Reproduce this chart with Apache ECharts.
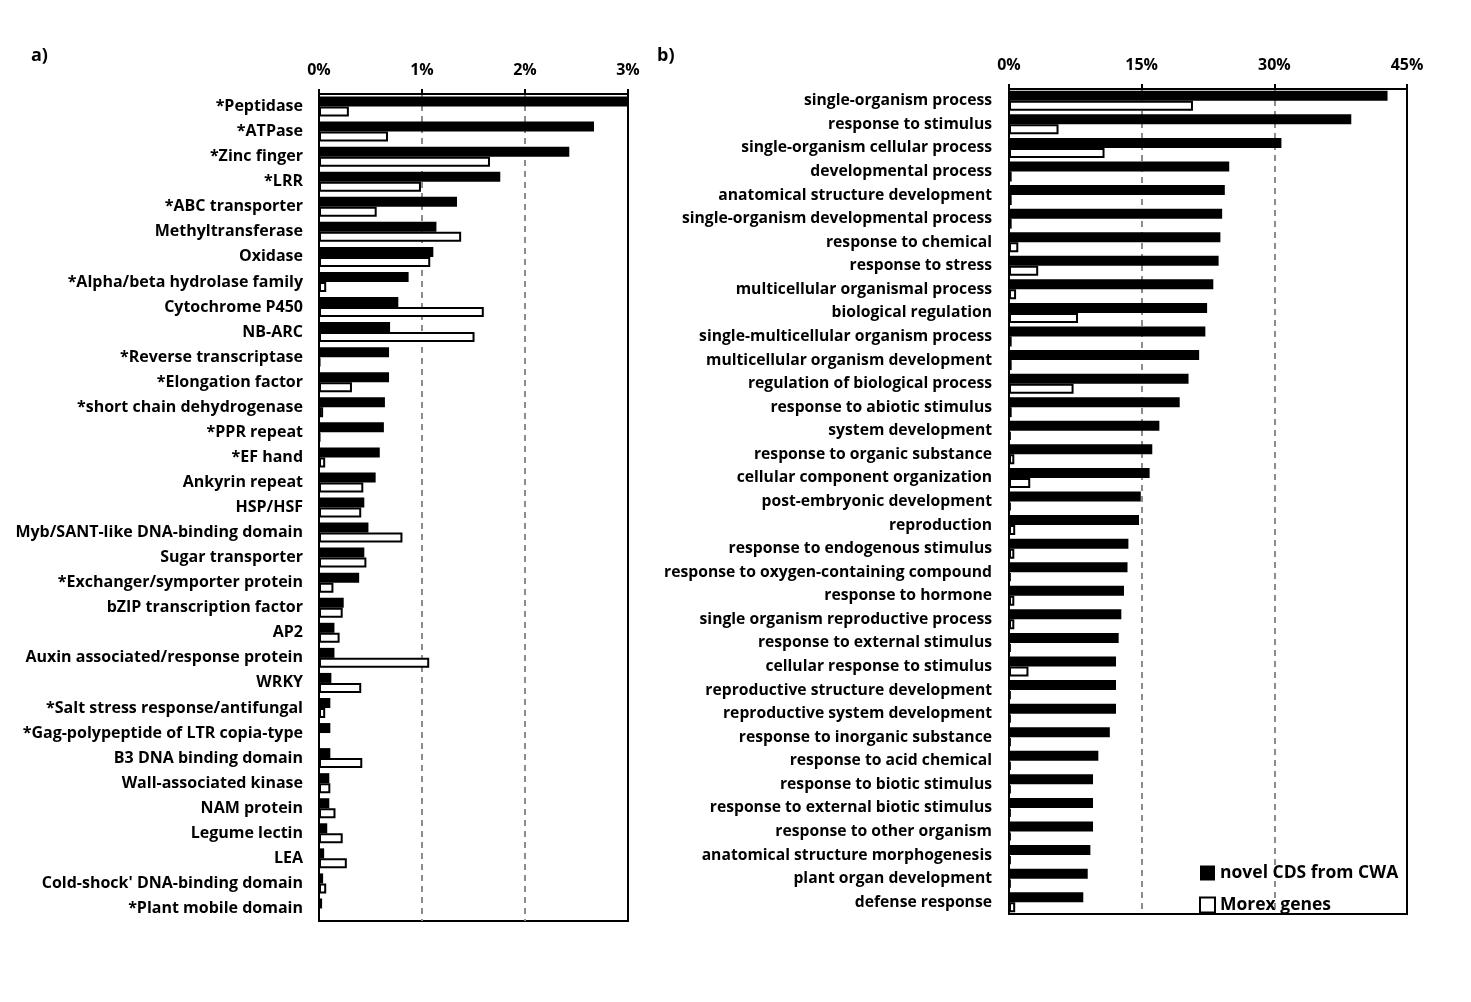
<!DOCTYPE html>
<html>
<head>
<meta charset="utf-8">
<title>Domains and GO terms</title>
<script src="https://cdn.jsdelivr.net/npm/echarts@6/dist/echarts.min.js"></script>
<style>
html, body { margin: 0; padding: 0; background: #fff; }
#main { width: 1471px; height: 1002px; }
</style>
</head>
<body>
<div id="main"></div>
<script>
// panel a: protein domains (% of genes)
var domainNames = ['*Peptidase', '*ATPase', '*Zinc finger', '*LRR', '*ABC transporter',
    'Methyltransferase', 'Oxidase', '*Alpha/beta hydrolase family', 'Cytochrome P450', 'NB-ARC',
    '*Reverse transcriptase', '*Elongation factor', '*short chain dehydrogenase', '*PPR repeat',
    '*EF hand', 'Ankyrin repeat', 'HSP/HSF', 'Myb/SANT-like DNA-binding domain', 'Sugar transporter',
    '*Exchanger/symporter protein', 'bZIP transcription factor', 'AP2', 'Auxin associated/response protein',
    'WRKY', '*Salt stress response/antifungal', '*Gag-polypeptide of LTR copia-type', 'B3 DNA binding domain',
    'Wall-associated kinase', 'NAM protein', 'Legume lectin', 'LEA', "Cold-shock' DNA-binding domain",
    '*Plant mobile domain'];
var domainNovel = [3.0, 2.67, 2.43, 1.76, 1.34, 1.14, 1.11, 0.87, 0.77, 0.69,
    0.68, 0.68, 0.64, 0.63, 0.59, 0.55, 0.44, 0.48, 0.44, 0.39,
    0.24, 0.15, 0.15, 0.12, 0.11, 0.11, 0.11, 0.10, 0.10, 0.08,
    0.05, 0.04, 0.03];
var domainMorex = [0.29, 0.67, 1.66, 0.99, 0.56, 1.38, 1.08, 0.07, 1.60, 1.51,
    0.01, 0.32, 0.04, 0.01, 0.06, 0.43, 0.41, 0.81, 0.46, 0.14,
    0.23, 0.20, 1.07, 0.41, 0.06, 0, 0.42, 0.11, 0.16, 0.23,
    0.27, 0.07, 0];
var domainTicks = [0, 1, 2, 3];

// panel b: GO terms (% of genes)
var goNames = ['single-organism process', 'response to stimulus', 'single-organism cellular process',
    'developmental process', 'anatomical structure development', 'single-organism developmental process',
    'response to chemical', 'response to stress', 'multicellular organismal process', 'biological regulation',
    'single-multicellular organism process', 'multicellular organism development',
    'regulation of biological process', 'response to abiotic stimulus', 'system development',
    'response to organic substance', 'cellular component organization', 'post-embryonic development',
    'reproduction', 'response to endogenous stimulus', 'response to oxygen-containing compound',
    'response to hormone', 'single organism reproductive process', 'response to external stimulus',
    'cellular response to stimulus', 'reproductive structure development', 'reproductive system development',
    'response to inorganic substance', 'response to acid chemical', 'response to biotic stimulus',
    'response to external biotic stimulus', 'response to other organism', 'anatomical structure morphogenesis',
    'plant organ development', 'defense response'];
var goNovel = [42.8, 38.7, 30.8, 24.9, 24.4, 24.1, 23.9, 23.7, 23.1, 22.4,
    22.2, 21.5, 20.3, 19.3, 17.0, 16.2, 15.9, 14.9, 14.7, 13.5,
    13.4, 13.0, 12.7, 12.4, 12.1, 12.1, 12.1, 11.4, 10.1, 9.5,
    9.5, 9.5, 9.2, 8.9, 8.4];
var goMorex = [20.8, 5.6, 10.8, 0.3, 0.3, 0.3, 1.05, 3.3, 0.8, 7.8,
    0.3, 0.3, 7.3, 0.3, 0.2, 0.6, 2.4, 0.2, 0.7, 0.6,
    0.2, 0.6, 0.6, 0.2, 2.2, 0.2, 0.2, 0.2, 0.2, 0.2,
    0.2, 0.2, 0.2, 0.2, 0.7];
var goTicks = [0, 15, 30, 45];

var font = 'Open Sans';
var myChart = echarts.init(document.getElementById('main'));

function valueAxis(gridIndex, ticks) {
    return {
        gridIndex: gridIndex,
        type: 'value',
        position: 'top',
        min: ticks[0],
        max: ticks[ticks.length - 1],
        interval: ticks[1] - ticks[0],
        axisLine: { show: true, lineStyle: { color: '#000', width: 2 } },
        axisTick: { show: true, inside: false, length: 5, lineStyle: { color: '#000', width: 2 } },
        axisLabel: {
            formatter: '{value}%', margin: 16,
            color: '#000', fontFamily: font, fontWeight: 'bold', fontSize: 16
        },
        splitLine: {
            show: true, showMinLine: false, showMaxLine: false,
            lineStyle: { color: '#8c8c8c', type: [6, 5], width: 2 }
        }
    };
}

function catAxis(gridIndex, names, margin, size) {
    return {
        gridIndex: gridIndex,
        type: 'category',
        data: names,
        inverse: true,
        axisLine: { show: true, lineStyle: { color: '#000', width: 2 } },
        axisTick: { show: false },
        axisLabel: {
            interval: 0, margin: margin,
            color: '#000', fontFamily: font, fontWeight: 'bold', fontSize: size
        }
    };
}

var novelStyle = { color: '#000' };
var morexStyle = { color: '#fff', borderColor: '#000', borderWidth: 2 };

var option = {
    backgroundColor: '#fff',
    animation: false,
    title: [
        { text: 'a)', left: 26, top: 42, textStyle: { fontFamily: font, fontWeight: 'bold', fontSize: 18, color: '#000' } },
        { text: 'b)', left: 652, top: 42, textStyle: { fontFamily: font, fontWeight: 'bold', fontSize: 18, color: '#000' } }
    ],
    legend: {
        data: ['novel CDS from CWA', 'Morex genes'],
        orient: 'vertical',
        left: 1194,
        top: 859,
        itemGap: 14,
        itemWidth: 15,
        itemHeight: 15,
        icon: 'rect',
        textStyle: { fontFamily: font, fontWeight: 'bold', fontSize: 17.5, color: '#000' }
    },
    grid: [
        { left: 319, top: 94, width: 309, height: 827, show: true, borderColor: '#000', borderWidth: 2, backgroundColor: 'transparent' },
        { left: 1009, top: 89, width: 398, height: 825, show: true, borderColor: '#000', borderWidth: 2, backgroundColor: 'transparent' }
    ],
    xAxis: [valueAxis(0, domainTicks), valueAxis(1, goTicks)],
    yAxis: [catAxis(0, domainNames, 16, 16), catAxis(1, goNames, 17, 15.7)],
    series: [
        { name: 'novel CDS from CWA', type: 'bar', xAxisIndex: 0, yAxisIndex: 0, data: domainNovel,
          barWidth: 10, barGap: '0%', itemStyle: novelStyle },
        { name: 'Morex genes', type: 'bar', xAxisIndex: 0, yAxisIndex: 0, data: domainMorex,
          barWidth: 10, barGap: '0%', itemStyle: morexStyle },
        { name: 'novel CDS from CWA', type: 'bar', xAxisIndex: 1, yAxisIndex: 1, data: goNovel,
          barWidth: 10, barGap: '0%', itemStyle: novelStyle },
        { name: 'Morex genes', type: 'bar', xAxisIndex: 1, yAxisIndex: 1, data: goMorex,
          barWidth: 10, barGap: '0%', itemStyle: morexStyle }
    ]
};

myChart.setOption(option);
</script>
</body>
</html>
